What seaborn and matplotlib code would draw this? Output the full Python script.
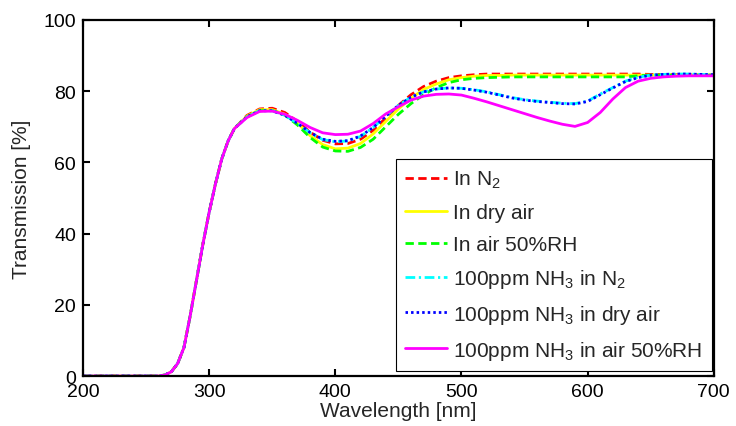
import numpy as np
import pandas as pd
import seaborn as sns
import matplotlib
matplotlib.use("Agg")
import matplotlib.pyplot as plt

# ---- data ----
wavelength = [200, 250, 260, 265, 270, 275, 280, 285, 290, 295, 300, 305, 310, 315, 320,
              330, 340, 350, 360, 370, 380, 390, 400, 410, 420, 430, 440, 450, 460, 470,
              480, 490, 500, 510, 520, 530, 540, 550, 560, 570, 580, 590, 600, 610, 620,
              630, 640, 650, 660, 670, 680, 690, 700]

# common absorption edge (200 .. 320 nm)
edge = [0, 0, 0, 0.3, 1.2, 3.5, 8, 17, 27, 37, 46, 54, 61, 66, 69.5]

t_n2 = edge + [73.2, 75.0, 75.2, 74.0, 71.5, 68.5, 66.2, 65.2, 65.3, 66.5, 69.0, 72.5, 76.0,
               79.0, 81.3, 82.8, 83.8, 84.3, 84.6, 84.8, 84.8, 84.8, 84.8, 84.8, 84.8, 84.8,
               84.8, 84.8, 84.8, 84.8, 84.8, 84.8, 84.7, 84.7, 84.6, 84.6, 84.5, 84.5]
t_dry = edge + [73.0, 74.8, 74.8, 73.5, 71.0, 67.5, 65.0, 63.8, 64.0, 65.3, 68.0, 71.5, 75.0,
                78.0, 80.5, 82.0, 83.2, 83.8, 84.2, 84.4, 84.4, 84.5, 84.5, 84.5, 84.5, 84.5,
                84.5, 84.5, 84.5, 84.5, 84.5, 84.5, 84.5, 84.5, 84.5, 84.5, 84.5, 84.5]
t_rh = edge + [72.8, 74.5, 74.6, 73.3, 70.5, 67.0, 64.3, 63.2, 63.1, 64.2, 66.5, 70.0, 73.5,
               76.5, 79.0, 81.0, 82.4, 83.2, 83.6, 83.8, 83.9, 84.0, 84.0, 84.0, 84.0, 84.0,
               84.0, 84.0, 84.0, 84.0, 84.0, 84.3, 84.5, 84.5, 84.5, 84.5, 84.5, 84.5]
t_nh3_n2 = edge + [72.8, 74.5, 74.5, 73.2, 71.0, 68.3, 66.4, 65.8, 66.0, 67.3, 69.8, 73.0, 76.0,
                   78.3, 79.8, 80.6, 80.9, 80.8, 80.4, 79.8, 79.0, 78.2, 77.6, 77.2, 76.9, 76.6,
                   76.5, 77.2, 79.2, 81.0, 82.8, 83.9, 84.5, 84.7, 84.8, 84.8, 84.7, 84.6]
t_nh3_dry = edge + [72.8, 74.5, 74.5, 73.2, 71.0, 68.4, 66.5, 65.9, 66.1, 67.4, 69.8, 73.0, 76.0,
                    78.3, 79.8, 80.6, 80.9, 80.8, 80.3, 79.7, 78.9, 78.1, 77.5, 77.1, 76.8, 76.5,
                    76.4, 77.1, 79.0, 80.9, 82.7, 83.8, 84.5, 84.7, 84.8, 84.8, 84.7, 84.6]
t_nh3_rh = edge + [72.6, 74.3, 74.4, 73.5, 71.8, 69.8, 68.3, 67.8, 67.9, 68.8, 70.9, 73.6, 75.6,
                   77.5, 78.6, 79.1, 79.2, 78.9, 78.0, 77.0, 75.9, 74.8, 73.7, 72.6, 71.6, 70.7,
                   70.1, 71.2, 74.0, 77.8, 81.0, 82.8, 83.6, 84.0, 84.2, 84.3, 84.3, 84.3]

labels = ["In N$_2$", "In dry air", "In air 50%RH",
          "100ppm NH$_3$ in N$_2$", "100ppm NH$_3$ in dry air", "100ppm NH$_3$ in air 50%RH"]
series = [t_n2, t_dry, t_rh, t_nh3_n2, t_nh3_dry, t_nh3_rh]
colors = ["#ff0000", "#ffff00", "#00ff00", "#00ffff", "#0000ff", "#ff00ff"]
styles = [(0, (3, 1.6)), "-", (0, (3, 1.6)), (0, (3.5, 1.3, 0.8, 1.3)), (0, (0.9, 1.1)), "-"]

# ---- style ----
sns.set_theme(style="ticks")
plt.rcParams["font.family"] = ["Liberation Sans", "DejaVu Sans"]
plt.rcParams["mathtext.fontset"] = "custom"
plt.rcParams["mathtext.rm"] = "Liberation Sans"
plt.rcParams["mathtext.it"] = "Liberation Sans:italic"
plt.rcParams["mathtext.bf"] = "Liberation Sans:bold"

fig = plt.figure(figsize=(7.36, 4.27), dpi=100)
ax = fig.add_axes([0.1128, 0.117, 0.857, 0.834])

for lab, vals, c, ls in zip(labels, series, colors, styles):
    df = pd.DataFrame({"wl": wavelength, "T": vals})
    sns.lineplot(data=df, x="wl", y="T", ax=ax, color=c, linestyle=ls,
                 linewidth=2.0, label=lab)

ax.set_xlim(200, 700)
ax.set_ylim(0, 100)
ax.set_xticks([200, 300, 400, 500, 600, 700])
ax.set_yticks([0, 20, 40, 60, 80, 100])
ax.set_xlabel("Wavelength [nm]", fontsize=15, labelpad=1,
              family=["Liberation Sans Narrow", "Liberation Sans"])
ax.set_ylabel("Transmission [%]", fontsize=15, labelpad=9)
ax.tick_params(direction="in", length=5, width=1.5, labelsize=14, pad=5,
               top=True, right=True, colors="black")
for sp in ax.spines.values():
    sp.set_linewidth(1.6)
    sp.set_color("black")

leg = ax.legend(loc="lower right", bbox_to_anchor=(0.997, 0.014), borderaxespad=0,
                fontsize=15, handlelength=2.0, handletextpad=0.3, labelspacing=0.62,
                frameon=True, fancybox=False, edgecolor="black", framealpha=1,
                borderpad=0.45)
leg.get_frame().set_linewidth(0.8)

fig.savefig("out.png", dpi=100)
